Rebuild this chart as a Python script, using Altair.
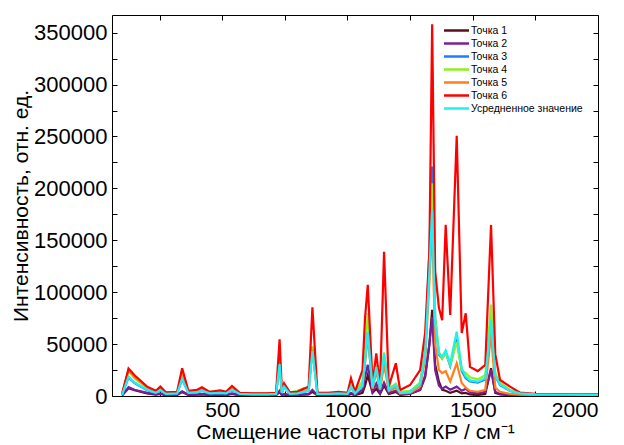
import altair as alt
import pandas as pd

shift = [100, 126, 150, 200, 235, 253, 275, 320, 340, 365,
         400, 419, 450, 492, 515, 539, 570, 620, 680, 715,
         729, 738, 747, 770, 800, 825, 845, 860, 880, 924,
         964, 1000, 1014, 1030, 1060, 1070, 1081, 1100, 1115, 1130,
         1146, 1165, 1193, 1210, 1250, 1290, 1310, 1327, 1338, 1350,
         1365, 1378, 1392, 1410, 1436, 1456, 1472, 1489, 1520, 1550,
         1573, 1590, 1609, 1649, 1689, 1750, 1850, 2000]

p1 = [500, 7400, 5500, 2500, 1200, 2000, 800, 1000, 3900, 1000,
      1200, 1500, 1000, 1000, 800, 2000, 600, 500, 500, 700,
      4000, 800, 1500, 600, 800, 1200, 1500, 4000, 600, 600,
      800, 600, 2000, 800, 3000, 10000, 20000, 3000, 7000, 2000,
      10000, 2000, 4000, 1000, 2000, 5800, 18000, 50000, 83000, 30000,
      13800, 6000, 5000, 3000, 5000, 2500, 3000, 1500, 1000, 2000,
      26700, 3000, 1500, 800, 500, 400, 300, 300]

p2 = [600, 8500, 6000, 3000, 1500, 2500, 1000, 1200, 4500, 1200,
      1500, 2000, 1200, 1200, 1000, 2500, 800, 700, 700, 900,
      5000, 1000, 2000, 800, 1000, 1500, 2000, 6000, 800, 800,
      1000, 800, 3000, 1000, 6000, 18000, 30000, 4000, 12000, 3000,
      13000, 3000, 5000, 1500, 2500, 6000, 20000, 50000, 76000, 25000,
      10000, 7000, 9000, 6000, 9000, 5000, 7000, 3500, 2500, 4000,
      25000, 4000, 2000, 1000, 600, 500, 400, 400]

p3 = [1000, 18000, 12500, 5500, 3000, 5500, 2000, 2500, 16000, 3000,
      3200, 5000, 2500, 3000, 2500, 5500, 2000, 1500, 1500, 2000,
      33000, 3000, 9000, 2000, 2500, 4000, 5000, 47000, 2000, 2000,
      2500, 2000, 9000, 2500, 10000, 33000, 60000, 8000, 27000, 7000,
      38000, 6000, 10000, 3000, 4000, 12000, 42000, 140000, 221000, 75000,
      40000, 36000, 42000, 29000, 55000, 24000, 17000, 14000, 13000, 16000,
      70000, 19000, 10500, 4800, 2400, 1500, 1200, 1000]

p4 = [1500, 24000, 17000, 8000, 4500, 7000, 3000, 3500, 20000, 4000,
      5000, 7000, 4000, 5000, 3500, 7000, 3000, 2500, 2500, 3000,
      35000, 4000, 10000, 3500, 5000, 7400, 7000, 48000, 3000, 3000,
      3500, 3000, 10000, 3500, 14000, 45000, 79700, 10000, 30000, 8000,
      42000, 7000, 12000, 4000, 5000, 13000, 42000, 130000, 205000, 75000,
      42700, 36000, 42000, 30000, 52000, 25000, 22000, 18000, 16000, 20000,
      88000, 22000, 12500, 5800, 2500, 1500, 1200, 1000]

p5 = [1500, 25000, 18000, 8500, 4500, 7000, 3000, 3500, 19000, 4000,
      5000, 6500, 3500, 4500, 3500, 7000, 2500, 2000, 2000, 2500,
      30000, 3500, 9000, 3000, 3500, 5000, 5500, 45000, 2500, 2500,
      3000, 2500, 8000, 3000, 9000, 32000, 60000, 7000, 24000, 6000,
      30000, 5000, 8000, 2500, 3000, 9000, 35000, 110000, 165000, 50000,
      25000, 22000, 24000, 14000, 31500, 12500, 8000, 5000, 4100, 6000,
      60000, 8000, 4000, 2000, 1200, 800, 700, 600]

p6 = [2000, 26400, 20000, 9000, 5000, 9000, 3500, 4000, 26700, 5000,
      6000, 8400, 4000, 5400, 4000, 9600, 3000, 2500, 2500, 3000,
      54700, 5000, 12200, 3500, 4000, 7000, 9000, 85500, 3000, 3000,
      3900, 3000, 17000, 4000, 25000, 75000, 107000, 12200, 41000, 10000,
      139000, 9000, 31500, 5800, 10600, 25000, 60700, 140000, 358000, 120000,
      85000, 73000, 164800, 78000, 250600, 60700, 79700, 28000, 24000, 30000,
      164800, 40000, 15400, 9000, 3200, 2000, 1500, 1500]

avg = [1000, 18600, 13000, 6000, 3000, 5800, 2000, 2500, 16700, 3000,
       3500, 5100, 2500, 3000, 2500, 6000, 2000, 1500, 1500, 2000,
       30800, 3000, 9000, 2000, 2500, 4000, 5000, 43400, 2000, 2000,
       2500, 2000, 9000, 2500, 10000, 35000, 62000, 8000, 28000, 7000,
       41000, 6000, 10600, 2900, 4000, 12000, 40000, 120000, 180000, 70000,
       41000, 38000, 44000, 31500, 62000, 26700, 18600, 15000, 13800, 17000,
       73000, 20000, 11000, 5000, 2500, 1500, 1200, 1000]

names = ["Точка 1", "Точка 2", "Точка 3", "Точка 4", "Точка 5", "Точка 6",
         "Усредненное значение"]
colors = ["#5a0f1e", "#7a1f9a", "#1a7fff", "#8ef020", "#ff7f1e", "#ff0000",
          "#1ff0f0"]
series = [p1, p2, p3, p4, p5, p6, avg]

x_labels = [500, 1000, 1500, 2000]
x_ticks = [250, 500, 750, 1000, 1250, 1500, 1750, 2000]
y_labels = [0, 50000, 100000, 150000, 200000, 250000, 300000, 350000]
y_ticks = [25000 * n for n in range(15)]

rows = []
for k, (nm, vals) in enumerate(zip(names, series)):
    assert len(vals) == len(shift), (nm, len(vals))
    for i, (xv, yv) in enumerate(zip(shift, vals)):
        rows.append({"s": nm, "k": k, "x": xv, "y": yv, "i": i})
df = pd.DataFrame(rows)

FONT = "Liberation Sans"
xscale = alt.Scale(domain=[60, 2000], nice=False, zero=False)
yscale = alt.Scale(domain=[0, 367000], nice=False)

lines = alt.Chart(df).mark_line(strokeWidth=2.2, clip=True).encode(
    x=alt.X("x:Q", scale=xscale,
            axis=alt.Axis(values=x_labels, format="d",
                          grid=False, ticks=False,
                          domain=False, labelFontSize=21, labelPadding=3,
                          labelColor="black", labelFont=FONT,
                          title="Смещение частоты при КР / см⁻¹",
                          titleFontSize=21, titleFontWeight="normal",
                          titleFont=FONT, titleColor="black", titlePadding=1)),
    y=alt.Y("y:Q", scale=yscale,
            axis=alt.Axis(values=y_labels,
                          format="d", grid=False, ticks=False, domain=False,
                          labelFontSize=22, labelPadding=5, labelColor="black",
                          labelFont=FONT,
                          title="Интенсивность, отн. ед.", titleFontSize=21,
                          titleFontWeight="normal", titleFont=FONT,
                          titleColor="black", titlePadding=2)),
    color=alt.Color("s:N",
                    scale=alt.Scale(domain=names, range=colors),
                    legend=alt.Legend(title=None, orient="none", legendX=337,
                                      legendY=8, symbolType="M-2,0L2,0",
                                      symbolSize=156, symbolStrokeWidth=2.5,
                                      labelFontSize=10.5, labelFont=FONT,
                                      labelColor="black", rowPadding=0,
                                      labelOffset=7)),
    detail="k:O",
    order="i:Q",
)


def tick_axis(orient, values):
    return alt.Axis(orient=orient, values=values, labels=False, grid=False,
                    domain=False, ticks=True, tickSize=5, tickColor="black",
                    tickWidth=1, offset=-5, title="")


ticks_bl = alt.Chart(df).mark_line(opacity=0).encode(
    x=alt.X("x:Q", scale=xscale, axis=tick_axis("bottom", x_ticks)),
    y=alt.Y("y:Q", scale=yscale, axis=tick_axis("left", y_ticks)),
    detail="k:O",
)
ticks_tr = alt.Chart(df).mark_line(opacity=0).encode(
    x=alt.X("x:Q", scale=xscale, axis=tick_axis("top", x_ticks)),
    y=alt.Y("y:Q", scale=yscale, axis=tick_axis("right", y_ticks)),
    detail="k:O",
)

chart = alt.layer(ticks_bl, ticks_tr, lines).resolve_axis(
    x="independent", y="independent"
).properties(
    width=486, height=381,
    autosize=alt.AutoSizeParams(type="none"),
    padding={"left": 104, "top": 7, "right": 18, "bottom": 48},
).configure_view(stroke="black", strokeWidth=1)

chart.save("out.html", embed_options={"renderer": "svg", "actions": False})
